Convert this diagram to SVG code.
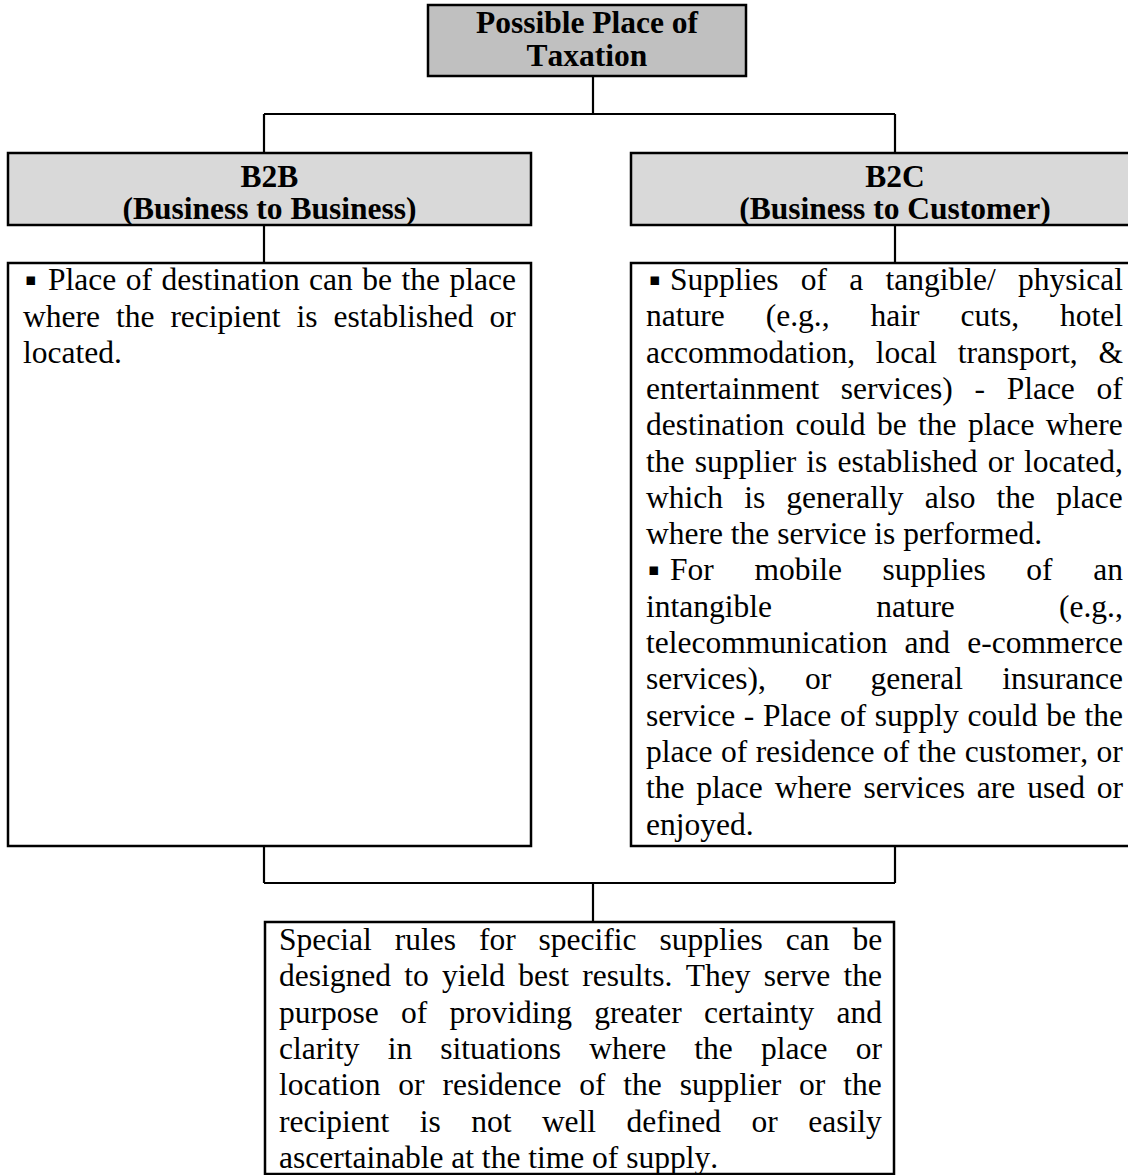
<svg xmlns="http://www.w3.org/2000/svg" width="1128" height="1175" viewBox="0 0 1128 1175">
<style>
  .box{stroke:#000;stroke-width:2.5;fill:#fff}
  .top{fill:#c0c0c0}
  .head{fill:#d9d9d9}
  .conn line{stroke:#000;stroke-width:2.2}
  text{font-family:"Liberation Serif","Times New Roman",serif;font-size:31.5px;fill:#000;font-kerning:none}
  .b{font-weight:bold;text-anchor:middle}
  .bul{font-family:"DejaVu Sans",sans-serif;font-size:17px}
</style>
<rect width="1128" height="1175" fill="#fff"/>
<g id="connectors" class="conn">
  <line x1="593" y1="76" x2="593" y2="114"/>
  <line x1="264" y1="114" x2="895" y2="114"/>
  <line x1="264" y1="114" x2="264" y2="153"/>
  <line x1="895" y1="114" x2="895" y2="153"/>
  <line x1="264" y1="225" x2="264" y2="263"/>
  <line x1="895" y1="225" x2="895" y2="263"/>
  <line x1="264" y1="846" x2="264" y2="883"/>
  <line x1="895" y1="846" x2="895" y2="883"/>
  <line x1="264" y1="883" x2="895" y2="883"/>
  <line x1="593" y1="883" x2="593" y2="922"/>
</g>
<g id="node-root">
  <rect class="box top" x="428" y="5" width="318" height="71"/>
  <text class="b" x="587" y="33">Possible Place of</text>
  <text class="b" x="587" y="66">Taxation</text>
</g>
<g id="node-b2b">
  <rect class="box head" x="8" y="153" width="523" height="72"/>
  <text class="b" x="269.5" y="187">B2B</text>
  <text class="b" x="269.5" y="219">(Business to Business)</text>
</g>
<g id="node-b2c">
  <rect class="box head" x="631" y="153" width="528" height="72"/>
  <text class="b" x="895" y="187">B2C</text>
  <text class="b" x="895" y="219">(Business to Customer)</text>
</g>
<g id="node-b2b-detail">
  <rect class="box" x="8" y="263" width="523" height="583"/>
  <text class="bul" x="25" y="285">▪</text>
  <text x="48" y="290" word-spacing="1.6">Place of destination can be the place</text>
  <text x="23" y="327" word-spacing="8.1">where the recipient is established or</text>
  <text x="23" y="363">located.</text>
</g>
<g id="node-b2c-detail">
  <rect class="box" x="631" y="263" width="528" height="583"/>
  <text class="bul" x="649" y="285">▪</text>
  <text x="670" y="290" word-spacing="14.4">Supplies of a tangible/ physical</text>
  <text x="646" y="326.3" word-spacing="33.1">nature (e.g., hair cuts, hotel</text>
  <text x="646" y="362.6" word-spacing="12.9">accommodation, local transport, &amp;</text>
  <text x="646" y="398.9" word-spacing="13.8">entertainment services) - Place of</text>
  <text x="646" y="435.2" word-spacing="3.5">destination could be the place where</text>
  <text x="646" y="471.5" word-spacing="2.3">the supplier is established or located,</text>
  <text x="646" y="507.8" word-spacing="13.3">which is generally also the place</text>
  <text x="646" y="544.1">where the service is performed.</text>
  <text class="bul" x="648" y="575.4">▪</text>
  <text x="670" y="580.4" word-spacing="32.75">For mobile supplies of an</text>
  <text x="646" y="616.7" word-spacing="96.3">intangible nature (e.g.,</text>
  <text x="646" y="653" word-spacing="9.3">telecommunication and e-commerce</text>
  <text x="646" y="689.3" word-spacing="31.3">services), or general insurance</text>
  <text x="646" y="725.6" word-spacing="0.8">service - Place of supply could be the</text>
  <text x="646" y="761.9" word-spacing="0.6">place of residence of the customer, or</text>
  <text x="646" y="798.2" word-spacing="4.0">the place where services are used or</text>
  <text x="646" y="834.5">enjoyed.</text>
</g>
<g id="node-special-rules">
  <rect class="box" x="265" y="922" width="629" height="252"/>
  <text x="279" y="950" word-spacing="15.1">Special rules for specific supplies can be</text>
  <text x="279" y="986.3" word-spacing="5.4">designed to yield best results. They serve the</text>
  <text x="279" y="1022.6" word-spacing="14.4">purpose of providing greater certainty and</text>
  <text x="279" y="1058.9" word-spacing="20.3">clarity in situations where the place or</text>
  <text x="279" y="1095.2" word-spacing="10.0">location or residence of the supplier or the</text>
  <text x="279" y="1131.5" word-spacing="22.6">recipient is not well defined or easily</text>
  <text x="279" y="1167.8">ascertainable at the time of supply.</text>
</g>
</svg>
